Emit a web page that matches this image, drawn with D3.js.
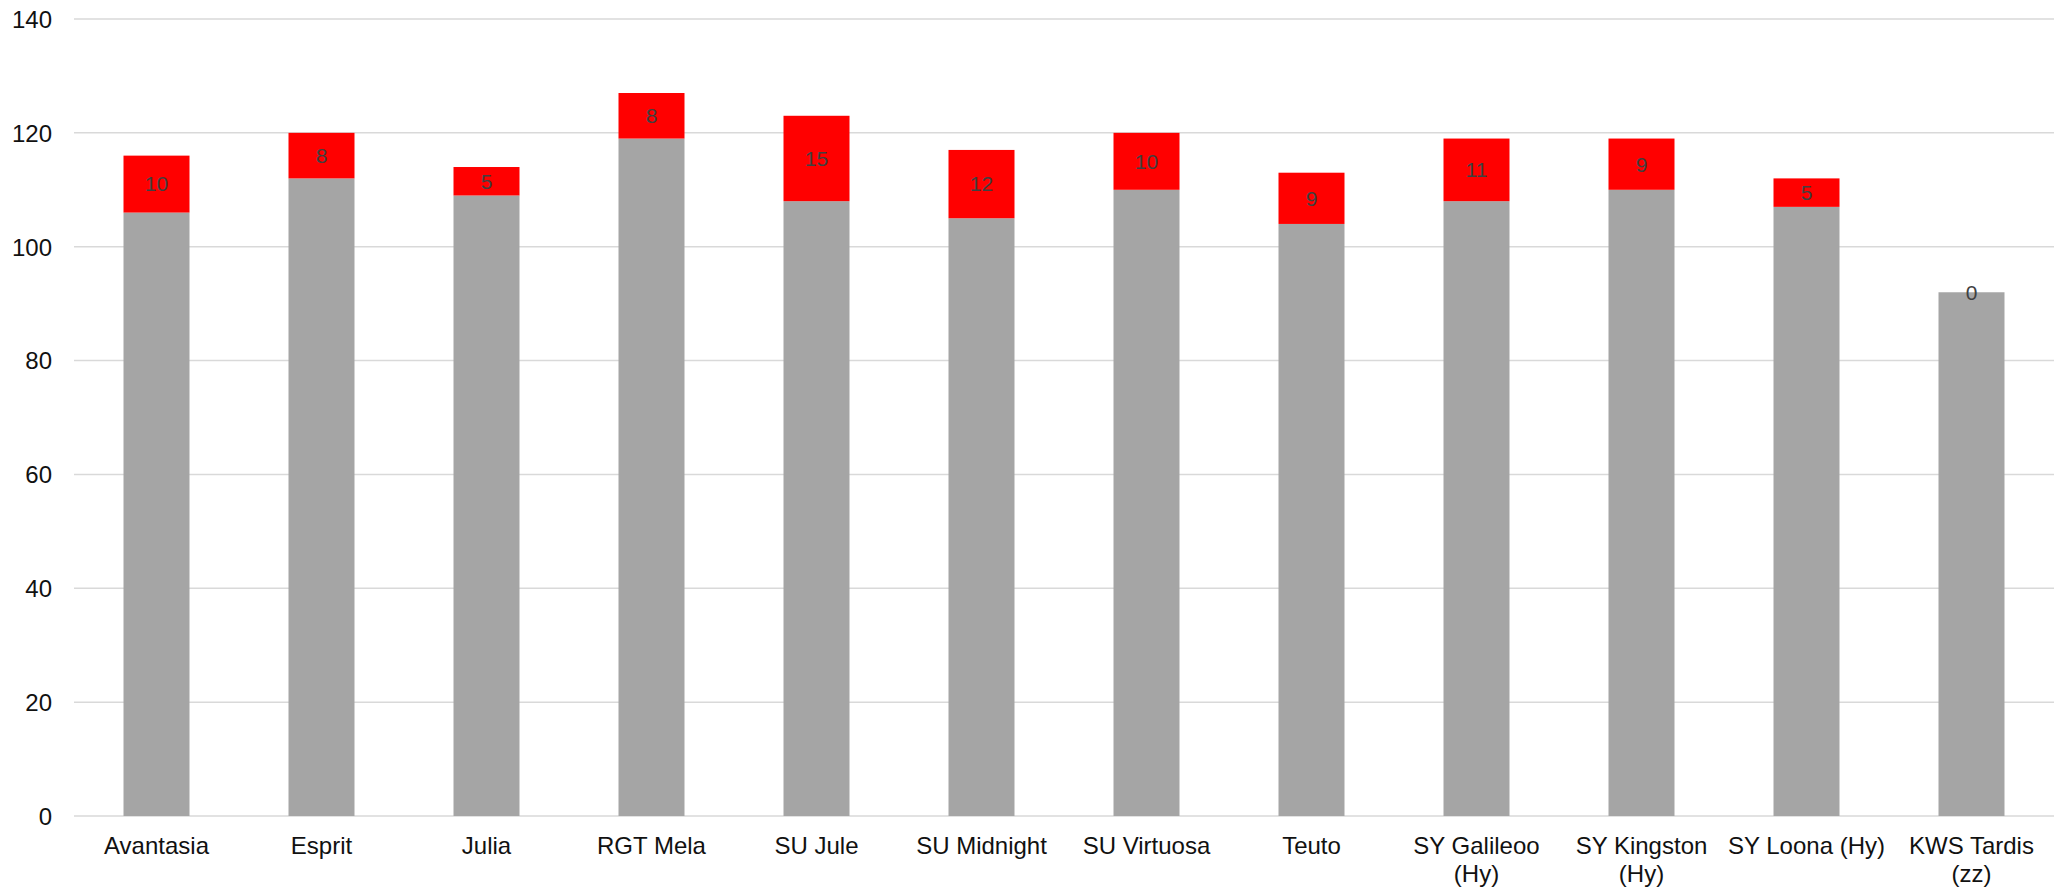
<!DOCTYPE html>
<html>
<head>
<meta charset="utf-8">
<script src="https://cdn.jsdelivr.net/npm/d3@7/dist/d3.min.js"></script>
<style>
  html, body { margin: 0; padding: 0; background: #fff; }
  svg { display: block; }
</style>
</head>
<body>
<svg id="chart" width="2056" height="896"></svg>
<script>
const categories = ["Avantasia", "Esprit", "Julia", "RGT Mela", "SU Jule", "SU Midnight", "SU Virtuosa", "Teuto", "SY Galileoo (Hy)", "SY Kingston (Hy)", "SY Loona (Hy)", "KWS Tardis (zz)"];
const baseValues = [106, 112, 109, 119, 108, 105, 110, 104, 108, 110, 107, 92];
const extraValues = [10, 8, 5, 8, 15, 12, 10, 9, 11, 9, 5, 0];
const yTicks = [0, 20, 40, 60, 80, 100, 120, 140];

(function () {
const svg = d3.select("#chart");
const mLeft = 74, mRight = 2054, mTop = 19, mBottom = 816;

const x = d3.scaleBand().domain(categories).range([mLeft, mRight]).paddingInner(0.6).paddingOuter(0.3);
const y = d3.scaleLinear().domain([0, 140]).range([mBottom, mTop]);

// gridlines
svg.append("g").selectAll("line").data(yTicks).join("line")
  .attr("x1", mLeft).attr("x2", mRight)
  .attr("y1", d => y(d)).attr("y2", d => y(d))
  .attr("stroke", "#d9d9d9").attr("stroke-width", 1.5);

// y axis labels
const yAxis = d3.axisLeft(y).tickValues(yTicks).tickSize(0).tickPadding(0);
const ya = svg.append("g").attr("transform", "translate(52,0)").call(yAxis);
ya.select(".domain").remove();
ya.selectAll("text").attr("font-family", "Liberation Sans, Arial, sans-serif")
  .attr("font-size", 24).attr("fill", "#111").attr("dy", "0.35em").attr("x", 0);

const data = categories.map((c, i) => ({ c, base: baseValues[i], extra: extraValues[i] }));

// gray base bars
svg.append("g").selectAll("rect").data(data).join("rect")
  .attr("x", d => x(d.c)).attr("width", x.bandwidth())
  .attr("y", d => y(d.base)).attr("height", d => y(0) - y(d.base))
  .attr("fill", "#a5a5a5");

// red extra bars
svg.append("g").selectAll("rect").data(data).join("rect")
  .attr("x", d => x(d.c)).attr("width", x.bandwidth())
  .attr("y", d => y(d.base + d.extra)).attr("height", d => y(d.base) - y(d.base + d.extra))
  .attr("fill", "#ff0000");

// value labels
svg.append("g").selectAll("text").data(data).join("text")
  .attr("x", d => x(d.c) + x.bandwidth() / 2)
  .attr("y", d => y(d.base + d.extra / 2))
  .attr("dy", "0.35em")
  .attr("text-anchor", "middle")
  .attr("font-family", "Liberation Sans, Arial, sans-serif")
  .attr("font-size", 21).attr("fill", "#404040")
  .text(d => d.extra);

// x axis labels with wrapping
const xa = svg.append("g");
categories.forEach(c => {
  const cx = x(c) + x.bandwidth() / 2;
  const t = xa.append("text")
    .attr("x", cx)
    .attr("y", 854)
    .attr("text-anchor", "middle")
    .attr("font-family", "Liberation Sans, Arial, sans-serif")
    .attr("font-size", 24).attr("fill", "#111");
  const words = c.split(" ");
  const lines = [];
  let cur = [];
  const probe = t.append("tspan");
  words.forEach(w => {
    const test = cur.concat([w]).join(" ");
    probe.text(test);
    if (probe.node().getComputedTextLength() > x.step() && cur.length) {
      lines.push(cur.join(" "));
      cur = [w];
    } else cur.push(w);
  });
  lines.push(cur.join(" "));
  probe.remove();
  lines.forEach((l, i) => {
    t.append("tspan").attr("x", cx).attr("dy", i === 0 ? 0 : 28).text(l);
  });
});
})();
</script>
</body>
</html>
